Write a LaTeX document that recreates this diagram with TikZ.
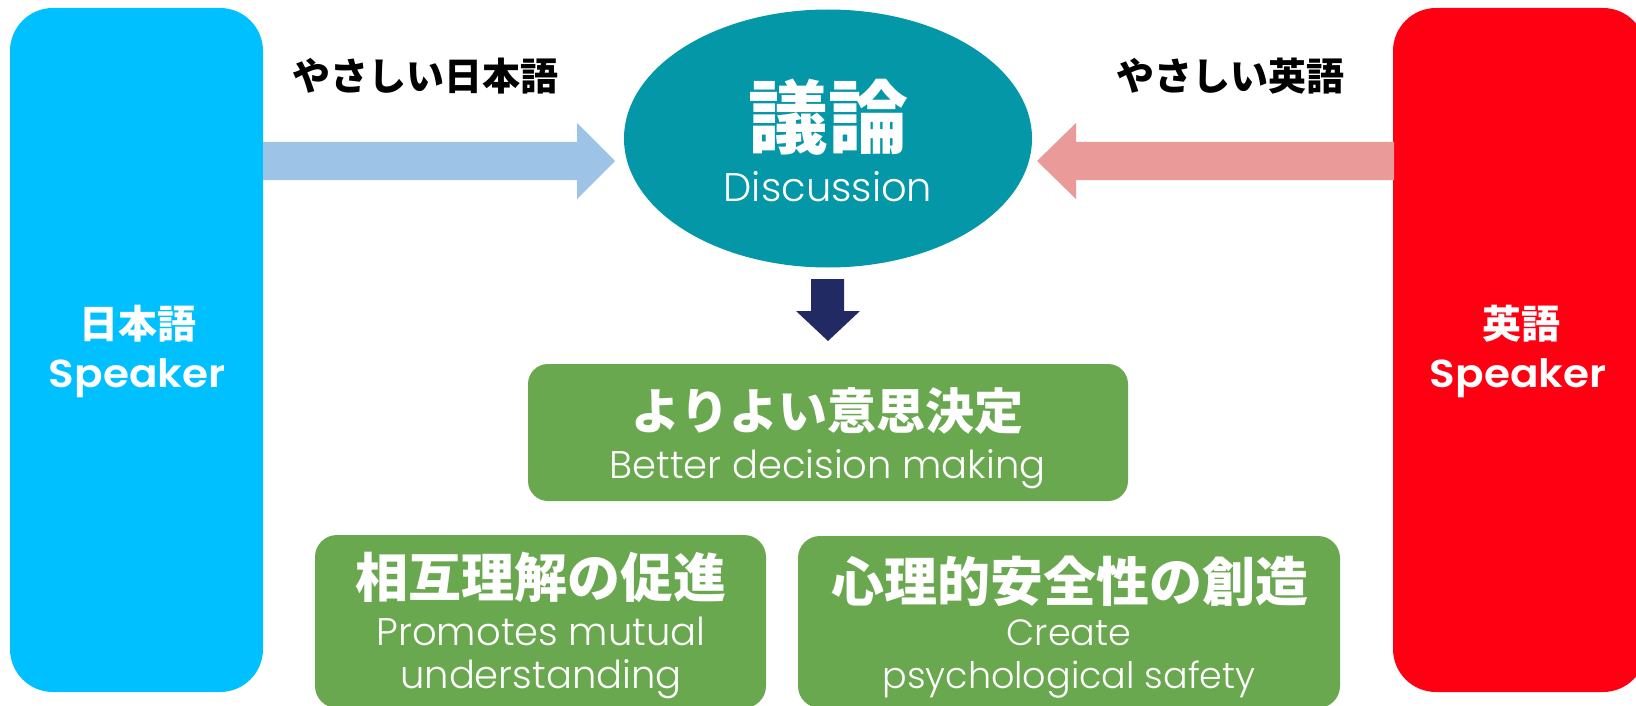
\documentclass[tikz,border=0pt]{standalone}
\usepackage{fontspec}
\usetikzlibrary{shapes.geometric}
\setmainfont{Poppins}
\newfontfamily\enlight{Poppins Light}
\newfontfamily\ensemi{Poppins SemiBold}[FakeStretch=1.08]
\newfontfamily\jpfont{Noto Sans CJK JP}
\definecolor{jpblue}{RGB}{0,192,255}
\definecolor{enred}{RGB}{255,0,19}
\definecolor{arrblue}{RGB}{157,195,230}
\definecolor{arrred}{RGB}{233,154,153}
\definecolor{discteal}{RGB}{3,151,167}
\definecolor{navy}{RGB}{34,42,100}
\definecolor{leaf}{RGB}{106,168,79}
\tikzset{
  lbl/.style={inner sep=0pt, outer sep=0pt},
  speakerbox/.style={lbl, rounded corners=43pt, minimum width=253pt, minimum height=684pt},
  greenbox/.style={lbl, fill=leaf, rounded corners=22pt},
  easylbl/.style={lbl, text=black, font=\jpfont\bfseries\fontsize{38}{40}\selectfont},
  spkjp/.style={lbl, text=white, font=\jpfont\bfseries\fontsize{39}{40}\selectfont},
  spken/.style={lbl, text=white, anchor=base, font=\ensemi\fontsize{39}{40}\selectfont},
  jphead/.style={lbl, text=white, font=\jpfont\bfseries\fontsize{53}{56}\selectfont},
  ensub/.style={lbl, text=white, anchor=base, font=\enlight\fontsize{36.5}{40}\selectfont},
  ensubw/.style={lbl, text=white, anchor=base, font=\enlight\fontsize{38.5}{40}\selectfont},
}
\begin{document}
\begin{tikzpicture}[x=1pt,y=-1pt]
\useasboundingbox (0,0) rectangle (1636,706);
\clip (0,0) rectangle (1636,706);
% speaker boxes
\node[speakerbox, fill=jpblue] (jp) at (136.5,350) {};
\node[speakerbox, fill=enred] (en) at (1519.5,350) {};
\node[spkjp] (jpl) at (138,324) {日本語};
\node[spken] (jps) at (137,387) {Speaker};
\node[spkjp] (enl) at (1521,324) {英語};
\node[spken] (ens) at (1518,387) {Speaker};
% discussion
\node[lbl, ellipse, fill=discteal, minimum width=408pt, minimum height=258pt] (disc) at (828,138.5) {};
\node[lbl, text=white, font=\jpfont\bfseries\fontsize{80}{84}\selectfont] (giron) at (828,117) {議論};
\node[lbl, text=white, anchor=base, font=\enlight\fontsize{40}{44}\selectfont] (discen) at (828,201) {Discussion};
% labels above arrows
\node[easylbl] (easyjp) at (425,76.5) {やさしい日本語};
\node[easylbl] (easyen) at (1230,76.5) {やさしい英語};
% block arrows
\fill[arrblue] (263,142) -- (577,142) -- (577,123) -- (615,161) -- (577,199) -- (577,180) -- (263,180) -- cycle;
\fill[arrred] (1394,142) -- (1076,142) -- (1076,123) -- (1037,161) -- (1076,199) -- (1076,180) -- (1394,180) -- cycle;
\fill[navy] (811,279) -- (844,279) -- (844,311) -- (860,311) -- (828,341) -- (796,311) -- (811,311) -- cycle;
% result boxes
\node[greenbox, rounded corners=20pt, minimum width=600pt, minimum height=137pt] (better) at (828,432.5) {};
\node[jphead, font=\jpfont\bfseries\fontsize{49}{52}\selectfont] (betterjp) at (827.5,411) {よりよい意思決定};
\node[ensubw] (betteren) at (827.5,478) {Better decision making};
\node[greenbox, minimum width=451pt, minimum height=173pt] (mutual) at (540.5,621.5) {};
\node[jphead] (mutualjp) at (541,577) {相互理解の促進};
\node[ensubw] (mutualen1) at (541,645) {Promotes mutual};
\node[ensubw] (mutualen2) at (541,688) {understanding};
\node[greenbox, minimum width=542pt, minimum height=172pt] (safety) at (1069,622) {};
\node[jphead] (safetyjp) at (1069.5,581) {心理的安全性の創造};
\node[ensub] (safetyen1) at (1069,645) {Create};
\node[ensub] (safetyen2) at (1069,688) {psychological safety};
\end{tikzpicture}
\end{document}
